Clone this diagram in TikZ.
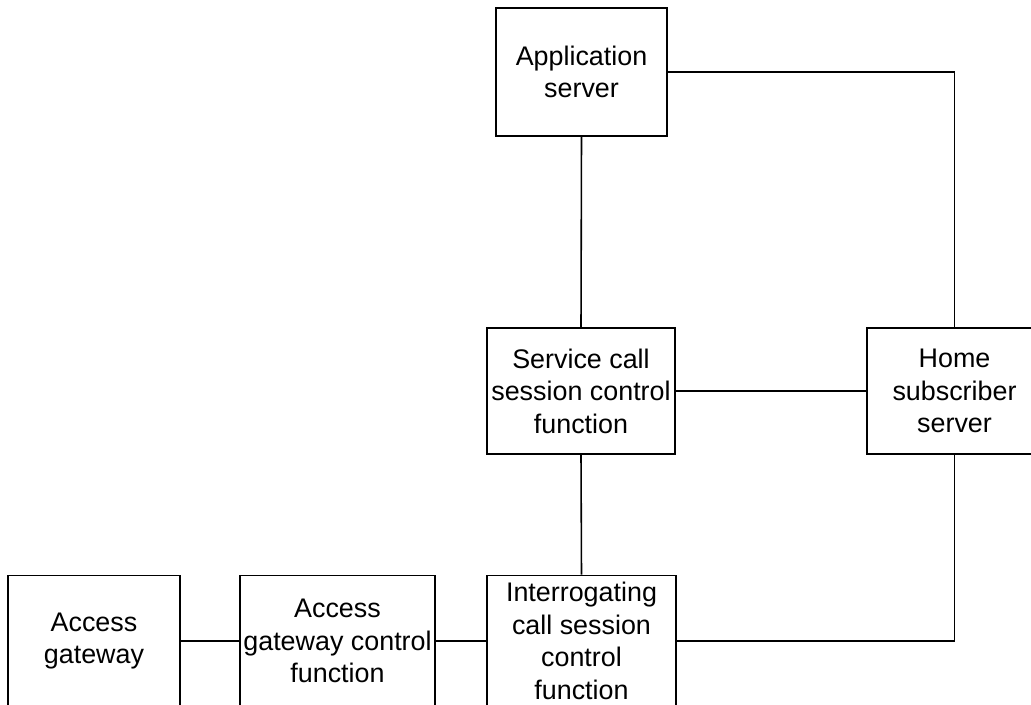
\documentclass[tikz,border=0pt]{standalone}
\usepackage{fontspec}
\setmainfont{Liberation Sans}
\usepackage{tikz}
\usetikzlibrary{calc}

\begin{document}
\begin{tikzpicture}[x=0.02cm,y=-0.02cm,
	box/.style={draw,line width=1.1pt,align=center,inner sep=0pt,
		font=\fontsize{15.3}{18.5}\selectfont},
	link/.style={line width=0.9pt}]
	\useasboundingbox (0,0) rectangle (1031,705);
	\clip (0,0) rectangle (1031,705);

	%boxes
	\node[box,minimum width=3.42cm,minimum height=2.56cm] (as) at (581.5,72) {Application\\server};
	\node[box,minimum width=3.76cm,minimum height=2.52cm] (scscf) at (581,391) {Service call\\session control\\function};
	\node[box,minimum width=3.5cm,minimum height=2.52cm] (hss) at (954.5,391) {Home\\subscriber\\server};
	%
	\node[box,minimum width=3.44cm,minimum height=2.62cm] (ag) at (94,641) {Access\\gateway};
	\node[box,minimum width=3.9cm,minimum height=2.62cm] (agcf) at (337.5,641) {Access\\gateway control\\function};
	\node[box,minimum width=3.78cm,minimum height=2.62cm] (icscf) at (581.5,641) {Interrogating\\call session\\control\\function};

	%lines
	\draw[link] (as.east) -| (hss.north);
	\draw[link] (as.south) -- (scscf.north);
	\draw[link] (scscf.east) -- (hss.west);
	\draw[link] (scscf.south) -- (icscf.north);
	\draw[link] (ag.east) -- (agcf.west);
	\draw[link] (agcf.east) -- (icscf.west);
	\draw[link] (icscf.east) -| (hss.south);

	%\draw[help lines] (0,0) grid (1031,705);
\end{tikzpicture}
\end{document}
